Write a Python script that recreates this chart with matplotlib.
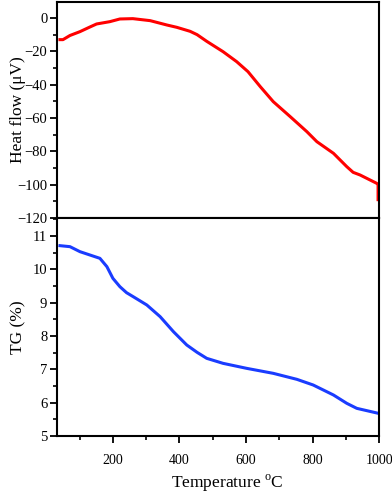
import matplotlib.pyplot as plt
from matplotlib.ticker import MultipleLocator

plt.rcParams['font.family'] = ['Liberation Serif', 'DejaVu Serif']
plt.rcParams['mathtext.fontset'] = 'custom'
plt.rcParams['mathtext.rm'] = 'Liberation Serif'

# heat flow curve (DTA)
t_hf = [41, 50, 71, 101, 130, 151, 171, 191, 221, 260, 312, 362, 392, 412, 432, 453, 482,
        531, 572, 606, 643, 682, 733, 783, 813, 863, 903, 922, 943, 993, 997, 997]
hf = [-13, -13, -10.5, -8.2, -5.5, -3.6, -2.9, -2.2, -0.6, -0.4, -1.6, -4.2, -5.6, -6.8,
      -8.0, -10.0, -14.0, -20.2, -26.2, -32.2, -41.2, -50.2, -59.2, -68.2, -74.2,
      -81.2, -89.2, -92.6, -94.2, -99.2, -100, -109]

# thermogravimetric curve
t_tg = [41, 71, 101, 131, 161, 182, 200, 221, 241, 261, 302, 342, 382, 422, 453,
        482, 531, 602, 682, 753, 802, 863, 903, 933, 998, 1000]
tg = [10.71, 10.68, 10.53, 10.43, 10.33, 10.08, 9.73, 9.48, 9.30, 9.18, 8.93, 8.58,
      8.13, 7.73, 7.51, 7.33, 7.18, 7.03, 6.88, 6.70, 6.53, 6.23, 5.98, 5.83, 5.68, 5.67]

fig = plt.figure(figsize=(3.92, 4.94), dpi=100)
ax1 = fig.add_axes([0.1454, 0.5587, 0.8216, 0.4373])
ax2 = fig.add_axes([0.1454, 0.1174, 0.8216, 0.4413], sharex=ax1)

ax1.plot(t_hf, hf, color='#ff0000', lw=2.2, solid_joinstyle='round')
ax2.plot(t_tg, tg, color='#1a3cff', lw=2.2, solid_joinstyle='round')

ax1.set_xlim(32, 1000)
ax1.set_ylim(-120, 9.6)
ax2.set_ylim(5, 11.54)

ax1.yaxis.set_major_locator(MultipleLocator(20))
ax1.yaxis.set_minor_locator(MultipleLocator(10))
ax2.yaxis.set_major_locator(MultipleLocator(1))
ax2.yaxis.set_minor_locator(MultipleLocator(0.5))
ax2.xaxis.set_major_locator(MultipleLocator(200))
ax2.xaxis.set_minor_locator(MultipleLocator(100))

for ax in (ax1, ax2):
    for s in ax.spines.values():
        s.set_linewidth(1.5)
    ax.tick_params(which='major', direction='out', length=5, width=1.3, labelsize=10.5, pad=2)
    ax.tick_params(which='minor', direction='out', length=3, width=1.2)
    ax.tick_params(axis='x', which='both', top=False)
    ax.tick_params(axis='y', which='both', right=False)

ax1.tick_params(axis='x', which='both', bottom=False, labelbottom=False)
ax2.tick_params(axis='x', which='major', pad=8, labelsize=10)

ax1.set_ylabel('Heat flow (\u03bcV)', fontsize=12.5)
ax2.set_ylabel('TG (%)', fontsize=12.5)
ax2.set_xlabel('Temperature $^{\\mathrm{o}}$C', fontsize=12.5)
ax1.yaxis.set_label_coords(-0.121, 0.5)
ax2.yaxis.set_label_coords(-0.121, 0.5)
ax2.xaxis.set_label_coords(0.53, -0.215)
ax1.yaxis.label.set_va('center')
ax2.yaxis.label.set_va('center')
ax2.xaxis.label.set_va('center')

fig.savefig('out.png', dpi=100)
